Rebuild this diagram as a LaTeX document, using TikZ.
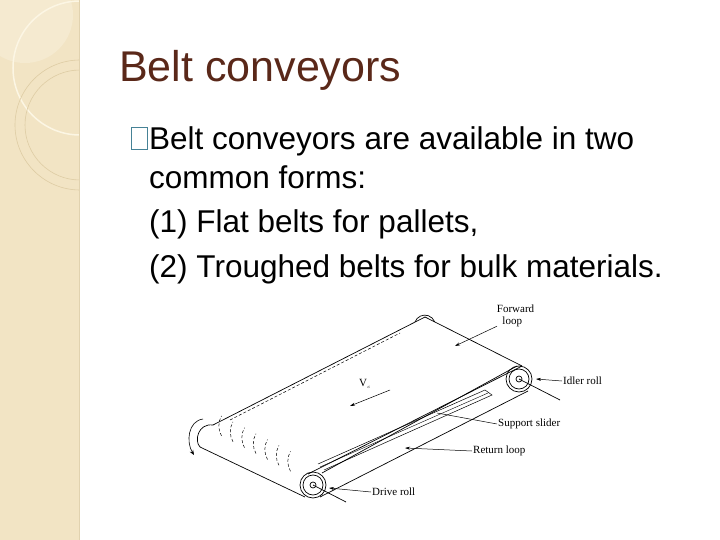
\documentclass[tikz,border=0pt]{standalone}
\usepackage{fontspec}
\usetikzlibrary{arrows.meta}
\setmainfont{Liberation Sans}
\newfontfamily\lblfont{Liberation Serif}
\begin{document}
\begin{tikzpicture}[x=1pt,y=-1pt,
  lbl/.style={font=\lblfont\fontsize{11}{12}\selectfont,anchor=west,inner sep=1pt,align=left},
  body/.style={font=\fontsize{31.5}{36}\selectfont,anchor=base west,inner sep=0pt},
  ln/.style={line width=0.7pt,black},
  arr/.style={-{Stealth[length=5pt,width=3pt]},line width=0.5pt}]
\useasboundingbox (0,0) rectangle (720,540);
\fill[white] (0,0) rectangle (720,540);
% left strip
\begin{scope}
\clip (0,0) rectangle (79,540);
\fill[color={rgb,255:red,242;green,228;blue,196}] (0,0) rectangle (79,540);
\fill[color={rgb,255:red,245;green,234;blue,208}] (25,15) circle (48);
\draw[color={rgb,255:red,252;green,246;blue,228},line width=1.5pt] (80,68) circle (67);
\draw[color={rgb,255:red,222;green,204;blue,164},line width=0.6pt] (80,125) circle (65);
\draw[color={rgb,255:red,222;green,204;blue,164},line width=0.6pt] (80,125) circle (55);
\end{scope}
\draw[color={rgb,255:red,225;green,210;blue,175}] (79,0) -- (79,540);
% title
\node[font=\fontsize{43}{46}\selectfont,anchor=base west,inner sep=0pt,text={rgb,255:red,90;green,40;blue,25}] (title) at (119,82) {Belt conveyors};
% bullet
\draw[color={rgb,255:red,70;green,130;blue,150},line width=0.8pt] (131,127) rectangle (147,149);
\node[body] (l1) at (149,150) {Belt conveyors are available in two};
\node[body] (l2) at (149,189) {common forms:};
\node[body] (l3) at (149,233) {(1) Flat belts for pallets,};
\node[body] (l4) at (149,277) {(2) Troughed belts for bulk materials.};
% conveyor
\coordinate (A) at (213,425); \coordinate (B) at (425,317);
\coordinate (C) at (522,366); \coordinate (D) at (308,474);
\node[circle,draw,line width=0.7pt,minimum size=26pt,inner sep=0pt] (drive) at (313,485) {};
\draw[ln] (drive) circle (10); \draw[ln] (drive) circle (3);
\node[circle,draw,line width=0.7pt,minimum size=26pt,inner sep=0pt] (idler) at (519,379) {};
\draw[ln] (idler) circle (10); \draw[ln] (idler) circle (3);
\draw[ln] (A) -- (B);
\draw[ln] (B) -- (C);
\draw[ln] (D) -- (C);
\draw[ln] (415,322) arc (200:340:10.5);
% left roll end
\draw[ln] (213,425) .. controls (198,423) and (194,441) .. (200,447);
\draw[ln] (200,447) -- (305,497);
\draw[ln] (320,497) -- (528,391);
\draw[ln] (322,473) -- (517,366);
% support slider
\draw[line width=0.5pt] (318,464) -- (485,390) -- (492,395) -- (324,470);
\draw[line width=0.4pt] (320,467) -- (488,393);
% axle lines
\draw[ln] (drive.center) -- (346,502);
\draw[ln] (idler.center) -- (560,400);
% dashed arcs on roll
\foreach \i in {1,...,7}
  \draw[line width=0.5pt,dash pattern=on 3pt off 2pt] ({210+\i*11.5},{430+\i*5.9}) arc (150:210:20);
\draw[line width=0.5pt,dash pattern=on 3pt off 2pt] (230,420) -- (400,333);
% curved arrow
\draw[-{Stealth[length=5pt,width=4pt]},line width=0.6pt] (203,419) .. controls (188,421) and (186,442) .. (194,455);
% v_c
\node[font=\lblfont\fontsize{11}{12}\selectfont,inner sep=1pt] (vc) at (365,384) {V$_{\scriptscriptstyle c}$};
\coordinate (vs) at (390,390); \coordinate (ve) at (350,406);
\draw[arr] (vs) -- (ve);
% labels
\node[lbl] (fl) at (493,316) {\ Forward\\ \ \ \ loop};
\draw[arr] (fl.south west) ++(4,-2) -- (455,346);
\node[lbl] (ir) at (562,381) {Idler roll};
\draw[arr] (ir.west) -- (536,379);
\node[lbl] (ss) at (497,424) {Support slider};
\draw[line width=0.5pt] (ss.west) -- (437,413);
\node[lbl] (rl) at (472,451) {Return loop};
\draw[arr] (rl.west) -- (405,448);
\node[lbl] (dr) at (371,492) {Drive roll};
\draw[arr] (dr.west) -- (329,488);
\end{tikzpicture}
\end{document}
